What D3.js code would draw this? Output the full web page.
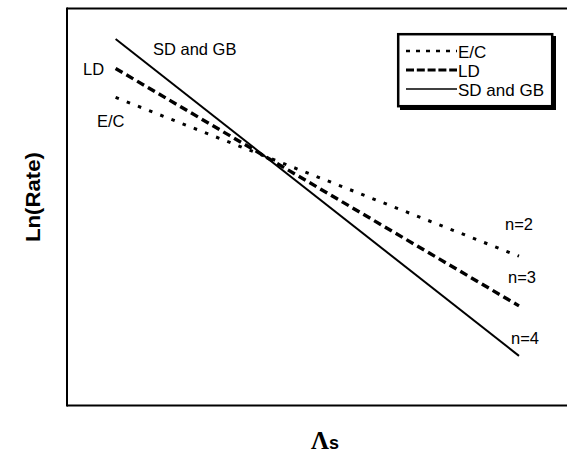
<!DOCTYPE html>
<html>
<head>
<meta charset="utf-8">
<script src="https://cdn.jsdelivr.net/npm/d3@7"></script>
<style>
  html, body { margin: 0; padding: 0; background: #fff; }
  svg { display: block; }
  text { font-family: "Liberation Sans", Arial, sans-serif; fill: #000; }
</style>
</head>
<body>
<div id="chart"></div>
<script>
// Mechanism names, stress exponents and line end points (Λs, Ln(Rate)) in arbitrary units
const mechanisms = ["E/C", "LD", "SD and GB"];
const exponents = ["n=2", "n=3", "n=4"];
const lambdaEnds = [1.0, 9.3];
const lnRateEC = [7.76, 3.76];
const lnRateLD = [8.49, 2.51];
const lnRateSD = [9.23, 1.25];

const width = 567, height = 455;
const margin = { left: 67, top: 9, right: 0, bottom: 49 };

const svg = d3.select("#chart").append("svg")
  .attr("width", width).attr("height", height);

const x = d3.scaleLinear().domain([0, 10]).range([margin.left, margin.left + 486]);
const y = d3.scaleLinear().domain([0, 10]).range([height - margin.bottom - 0.5, margin.top - 0.5]);

// plot frame: left, top and bottom edges running off the right side
const frame = svg.append("g").attr("fill", "none").attr("stroke", "#000").attr("stroke-width", 2);
frame.append("line").attr("x1", x(0)).attr("x2", width).attr("y1", y(10)).attr("y2", y(10));
frame.append("line").attr("x1", x(0)).attr("x2", width).attr("y1", y(0)).attr("y2", y(0));
frame.append("line").attr("x1", x(0)).attr("x2", x(0)).attr("y1", y(10) - 1).attr("y2", y(0) + 1);

const styles = [
  { dash: "3.5,8.5", w: 3, legendDash: "4,6" },
  { dash: "8,4.5", w: 3.4, legendDash: "8,2.8" },
  { dash: null, w: 2, legendDash: null }
];
const series = [lnRateEC, lnRateLD, lnRateSD];

const line = d3.line().x(d => x(d[0])).y(d => y(d[1]));
series.forEach((vals, i) => {
  const pts = lambdaEnds.map((l, j) => [l, vals[j]]);
  svg.append("path")
    .attr("d", line(pts))
    .attr("fill", "none")
    .attr("stroke", "#000")
    .attr("stroke-width", styles[i].w)
    .attr("stroke-dasharray", styles[i].dash);
});

// labels at the start of each line
const startLabels = [
  { t: mechanisms[0], x: 97, y: 127 },
  { t: mechanisms[1], x: 83, y: 75 },
  { t: mechanisms[2], x: 153, y: 55 }
];
svg.selectAll("text.start").data(startLabels).join("text")
  .attr("class", "start")
  .attr("x", d => d.x).attr("y", d => d.y)
  .attr("font-size", 16.5)
  .text(d => d.t);

// stress exponent labels at the end of each line
const endLabels = [
  { t: exponents[0], x: 505, y: 230 },
  { t: exponents[1], x: 508, y: 283 },
  { t: exponents[2], x: 511, y: 344 }
];
svg.selectAll("text.end").data(endLabels).join("text")
  .attr("class", "end")
  .attr("x", d => d.x).attr("y", d => d.y)
  .attr("font-size", 16.5)
  .text(d => d.t);

// legend with drop shadow
const lg = svg.append("g");
lg.append("rect").attr("x", 400).attr("y", 36).attr("width", 156).attr("height", 74).attr("fill", "#000");
lg.append("rect").attr("x", 398.2).attr("y", 34.2).attr("width", 154).attr("height", 72)
  .attr("fill", "#fff").attr("stroke", "#000").attr("stroke-width", 2.5);
const rowsY = [51, 70, 89];
mechanisms.forEach((m, i) => {
  lg.append("line")
    .attr("x1", 406).attr("x2", 457)
    .attr("y1", rowsY[i]).attr("y2", rowsY[i])
    .attr("stroke", "#000")
    .attr("stroke-width", i === 2 ? 1.6 : (i === 1 ? 3 : 2.6))
    .attr("stroke-dasharray", styles[i].legendDash);
  lg.append("text").attr("x", 458).attr("y", rowsY[i] + 6.5)
    .attr("font-size", 17).text(m);
});

// axis titles
svg.append("text")
  .attr("transform", "translate(39.5,197) rotate(-90)")
  .attr("text-anchor", "middle")
  .attr("font-size", 20).attr("font-weight", "bold")
  .attr("textLength", 90).attr("lengthAdjust", "spacingAndGlyphs")
  .text("Ln(Rate)");

const xt = svg.append("text").attr("x", 311).attr("y", 449);
xt.append("tspan").attr("font-family", "'Liberation Serif', 'Times New Roman', serif")
  .attr("font-weight", "bold").attr("font-size", 25).text("Λ");
xt.append("tspan").attr("font-weight", "bold").attr("font-size", 18).text("s");
</script>
</body>
</html>
